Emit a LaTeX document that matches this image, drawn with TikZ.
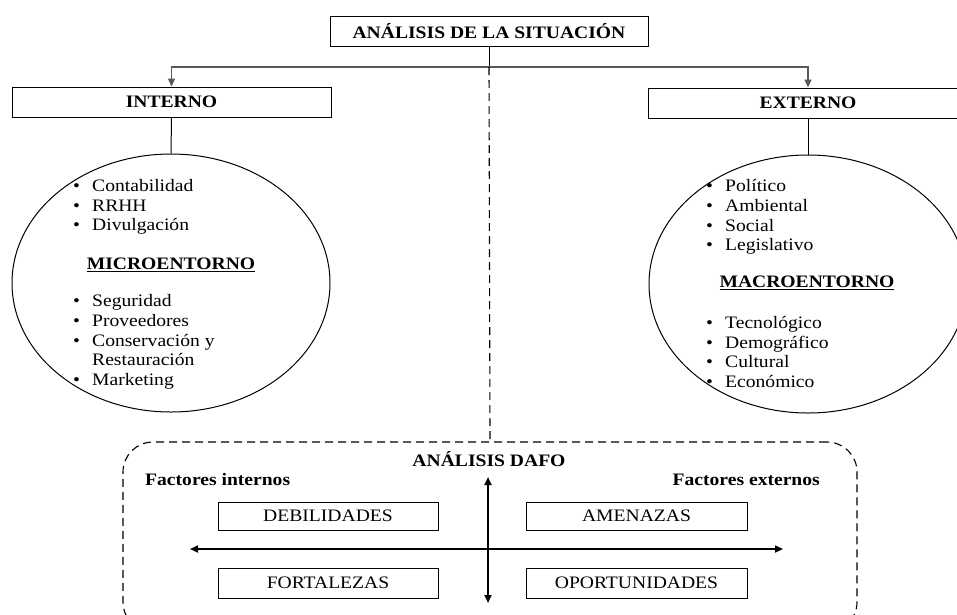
\documentclass[tikz,border=0pt]{standalone}
\usepackage{fontspec}
\setmainfont[FakeStretch=1.12]{Liberation Serif}
\usetikzlibrary{shapes.geometric,arrows.meta}

\tikzset{
  box/.style={draw, line width=1pt, inner sep=0pt, minimum height=30pt},
  oval/.style={draw, ellipse, line width=1pt, minimum width=318pt, minimum height=258pt},
  lst/.style={anchor=west, align=left, inner sep=0pt},
  tip/.style={>={Triangle[length=8pt,width=7pt]}},
}
\newcommand{\itm}{\makebox[19pt][l]{\textbullet}}

\begin{document}
\begin{tikzpicture}[x=1pt, y=-1pt, font=\fontsize{17.5}{19.7}\selectfont, tip]
\clip (0,0) rectangle (957,614);
\useasboundingbox (0,0) rectangle (957,614);
% cabecera
\node [box, minimum width=318pt] (sit) at (489,31) {\textbf{ANÁLISIS DE LA SITUACIÓN}};
\node [box, minimum width=319pt] (int) at (171.5,102) {\textbf{INTERNO}};
\node [box, minimum width=320pt] (ext) at (808,103) {\textbf{EXTERNO}};
\coordinate (j) at (489,67);
\draw [line width=1pt] (sit.south) -- (j);
\draw [gray!70!black, line width=1.3pt, ->] (j) -| (int.north);
\draw [gray!70!black, line width=1.3pt, ->] (j) -| (ext.north);

% entornos
\node [oval] (micro) at (171,283) {};
\node [oval] (macro) at (808,284) {};
\draw [line width=1pt] (int.south) -- (micro.north);
\draw [line width=1pt] (ext.south) -- (macro.north);
\node [lst] (mi1) at (73,207) {\itm Contabilidad\\ \itm RRHH\\ \itm Divulgación};
\node (mit) at (171,265) {\underline{\textbf{MICROENTORNO}}};
\node [lst] (mi2) at (73,342) {\itm Seguridad\\ \itm Proveedores\\ \itm Conservación y\\ \makebox[19pt]{}Restauración\\ \itm Marketing};
\node [lst] (ma1) at (706,217) {\itm Político\\ \itm Ambiental\\ \itm Social\\ \itm Legislativo};
\node (mat) at (807,283) {\underline{\textbf{MACROENTORNO}}};
\node [lst] (ma2) at (706,352) {\itm Tecnológico\\ \itm Demográfico\\ \itm Cultural\\ \itm Económico};

% DAFO
\node [draw, dash pattern=on 8pt off 5pt, line width=1.1pt, rounded corners=30pt,
       minimum width=734pt, minimum height=190pt] (frame) at (490,537) {};
\draw [dash pattern=on 8pt off 5pt, line width=1.1pt] (j) -- (frame.north);
\node (dafo) at (489,459) {\textbf{ANÁLISIS DAFO}};
\node [anchor=west, inner sep=0pt] (fi) at (145,480) {\textbf{Factores internos}};
\node [anchor=east, inner sep=0pt] (fe) at (820,480) {\textbf{Factores externos}};
\node [box, minimum width=220pt, minimum height=28pt] (deb) at (328,516) {DEBILIDADES};
\node [box, minimum width=220pt] (fort) at (328,583) {FORTALEZAS};
\node [box, minimum width=221pt, minimum height=28pt] (ame) at (636.5,516) {AMENAZAS};
\node [box, minimum width=221pt] (opo) at (636.5,583) {OPORTUNIDADES};
\coordinate (hl) at (190,549);
\coordinate (hr) at (783,549);
\coordinate (vt) at (488,477);
\coordinate (vb) at (488,603);
\draw [line width=1.7pt, <->] (hl) -- (hr);
\draw [line width=2pt, <->] (vt) -- (vb);
\end{tikzpicture}
\end{document}
